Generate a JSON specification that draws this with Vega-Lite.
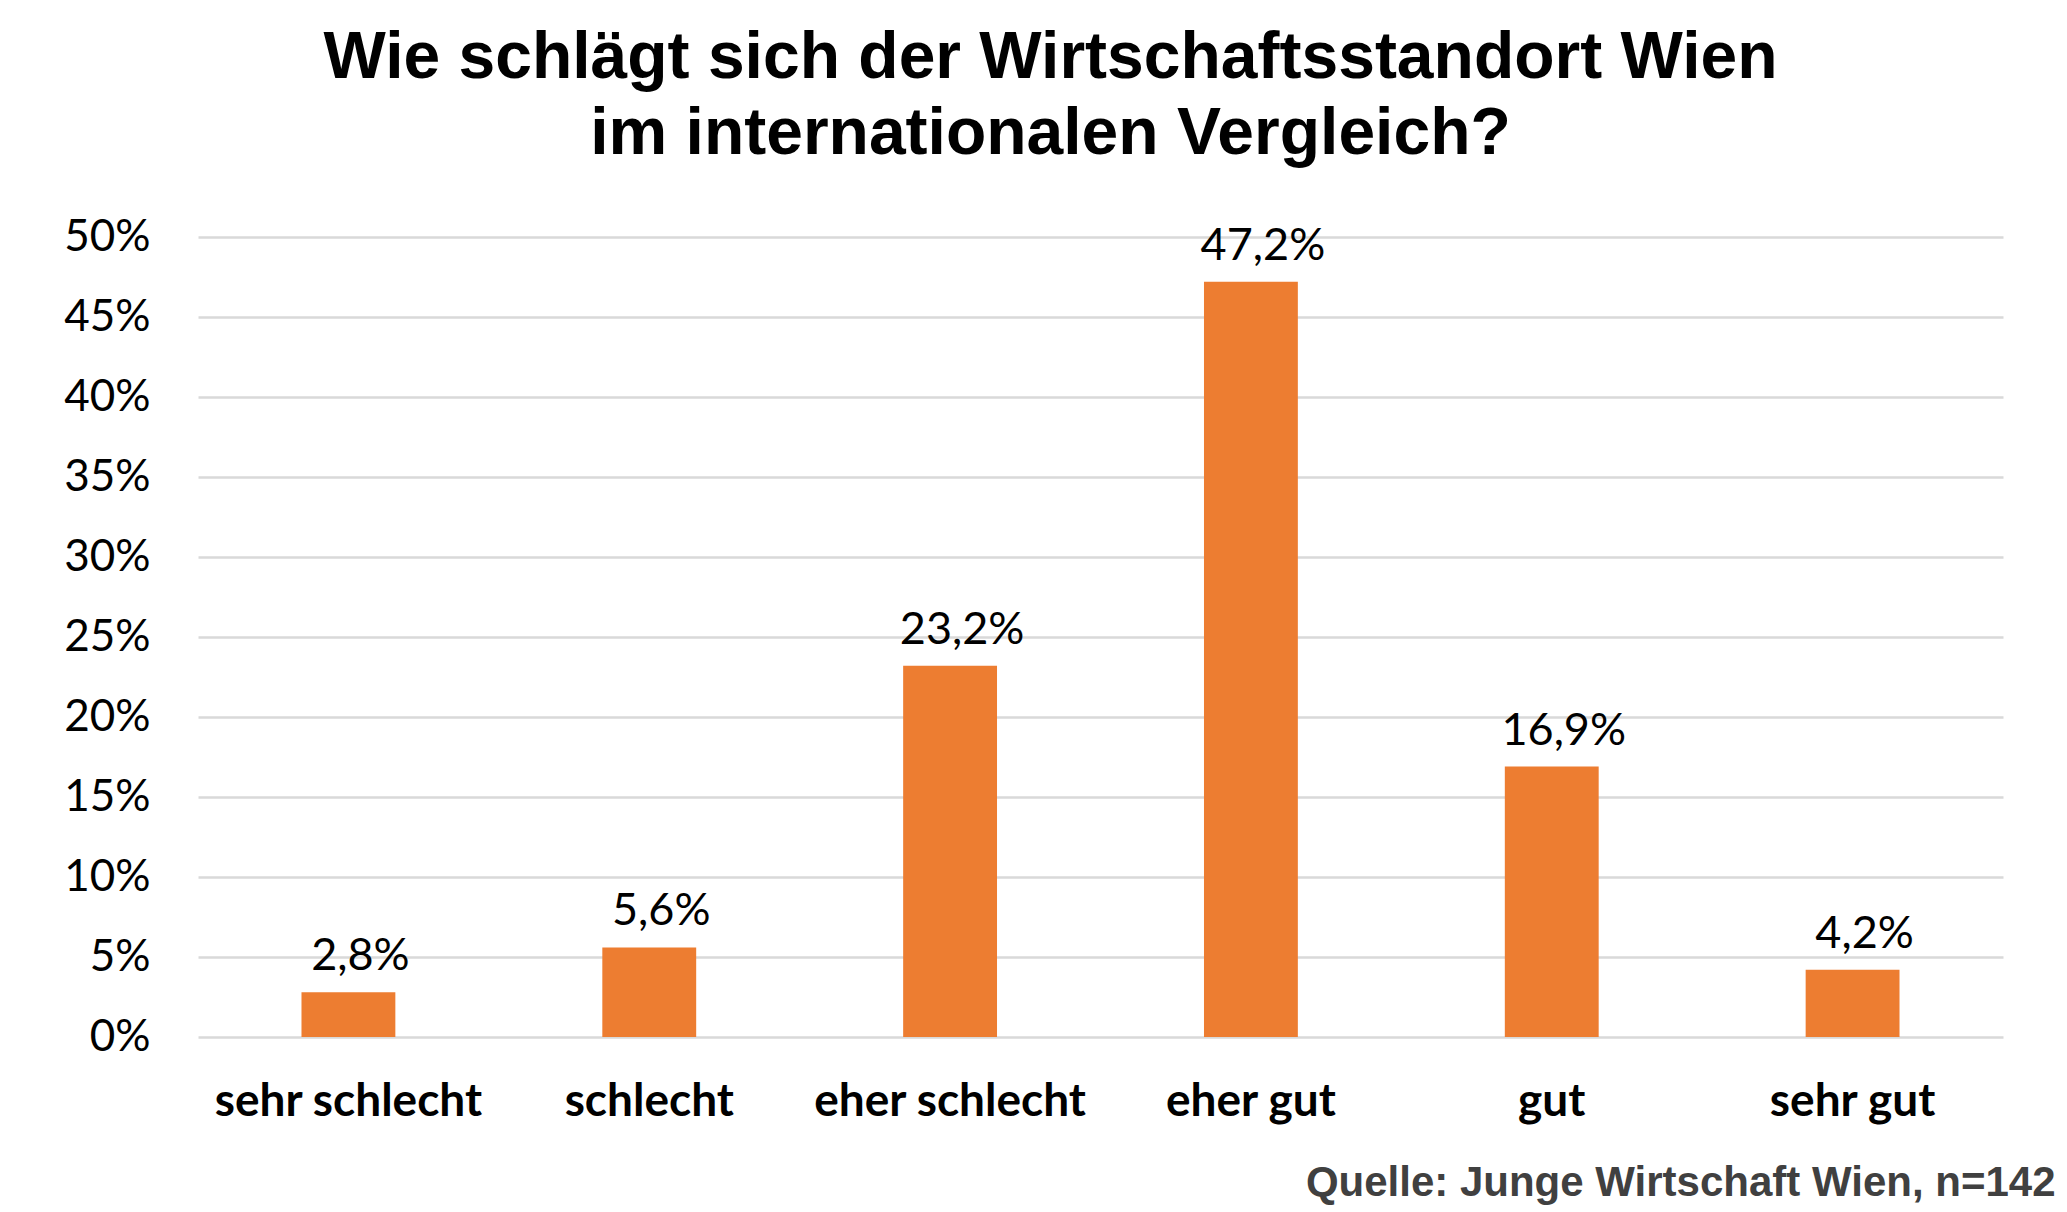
{
  "$schema": "https://vega.github.io/schema/vega-lite/v6.json",
  "width": 1805,
  "height": 800,
  "autosize": {"type": "none"},
  "padding": {"left": 198, "top": 237, "right": 64, "bottom": 175},
  "background": "white",
  "config": {
    "view": {"stroke": null},
    "locale": {
      "number": {"decimal": ",", "thousands": ".", "grouping": [3], "currency": ["", " €"]}
    }
  },
  "title": {
    "text": ["Wie schlägt sich der Wirtschaftsstandort Wien", "im internationalen Vergleich?"],
    "font": "Liberation Sans",
    "fontSize": 66,
    "fontWeight": "bold",
    "color": "#000000",
    "anchor": "middle",
    "lineHeight": 76,
    "dx": -50,
    "offset": 47
  },
  "data": {
    "values": [
      {"answer": "sehr schlecht", "pct": 0.028},
      {"answer": "schlecht", "pct": 0.056},
      {"answer": "eher schlecht", "pct": 0.232},
      {"answer": "eher gut", "pct": 0.472},
      {"answer": "gut", "pct": 0.169},
      {"answer": "sehr gut", "pct": 0.042}
    ]
  },
  "encoding": {
    "x": {
      "field": "answer",
      "type": "nominal",
      "sort": null,
      "scale": {"paddingInner": 0.688, "paddingOuter": 0.344},
      "axis": {
        "title": "Quelle: Junge Wirtschaft Wien, n=142",
        "titleFont": "Liberation Sans",
        "titleFontWeight": "bold",
        "titleFontSize": 42,
        "titleColor": "#404040",
        "titleX": 1857,
        "titleY": 158,
        "titleAlign": "right",
        "titleBaseline": "alphabetic",
        "titleAngle": 0,
        "labelAngle": 0,
        "labelFont": "Lato",
        "labelFontWeight": "bold",
        "labelFontSize": 46,
        "labelColor": "#000000",
        "labelBaseline": "alphabetic",
        "labelPadding": 78,
        "labelLimit": 0,
        "ticks": false,
        "domain": false
      }
    },
    "y": {
      "field": "pct",
      "type": "quantitative",
      "scale": {"domain": [0, 0.5], "nice": false},
      "axis": {
        "title": null,
        "values": [0, 0.05, 0.1, 0.15, 0.2, 0.25, 0.3, 0.35, 0.4, 0.45, 0.5],
        "format": ".0%",
        "labelFont": "Lato",
        "labelFontSize": 44,
        "labelColor": "#000000",
        "labelPadding": 48,
        "ticks": false,
        "domain": false,
        "grid": true,
        "gridColor": "#d9d9d9",
        "gridWidth": 2.5
      }
    }
  },
  "layer": [
    {"mark": {"type": "bar", "color": "#ED7D31"}},
    {
      "mark": {"type": "text", "font": "Lato", "fontSize": 45, "color": "#000000", "baseline": "alphabetic", "dy": -22, "dx": 12},
      "encoding": {"text": {"field": "pct", "type": "quantitative", "format": ".1%"}}
    }
  ]
}
